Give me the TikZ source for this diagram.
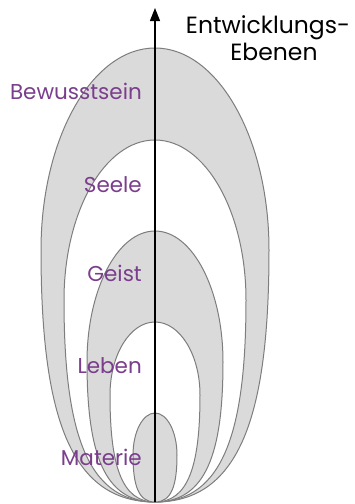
\documentclass[tikz,border=0pt]{standalone}
\usepackage{fontspec}
\setmainfont{Poppins}
\usetikzlibrary{arrows.meta}
\definecolor{eggfill}{RGB}{218,218,218}
\definecolor{eggline}{RGB}{125,125,125}
\definecolor{lbl}{RGB}{122,62,140}
% #1 top y, #2 half width, #3 y of widest point, #4 style
\newcommand\eggshape[4]{%
  \path[#4] (155,502) .. controls ({155+0.75*#2},502) and ({155+#2},{#3+0.65*(502-#3)}) .. ({155+#2},#3)
  .. controls ({155+#2},{#3-0.552*(#3-#1)}) and ({155+0.552*#2},#1) .. (155,#1)
  .. controls ({155-0.552*#2},#1) and ({155-#2},{#3-0.552*(#3-#1)}) .. ({155-#2},#3)
  .. controls ({155-#2},{#3+0.65*(502-#3)}) and ({155-0.75*#2},502) .. (155,502) -- cycle;}
\tikzset{
  grayegg/.style={fill=eggfill, draw=eggline, line width=1pt},
  whiteegg/.style={fill=white, draw=eggline, line width=1pt},
  level/.style={text=lbl, font=\fontsize{21.5}{21.5}\selectfont, inner sep=0pt, anchor=base east},
  title/.style={text=black, font=\fontsize{23.5}{23.5}\selectfont, inner sep=0pt, anchor=base},
}
\begin{document}
\begin{tikzpicture}[x=1pt,y=-1pt]
\useasboundingbox (0,0) rectangle (354,504);
\eggshape{48}{114}{250}{grayegg}
\eggshape{140}{91}{300}{whiteegg}
\eggshape{231}{68}{362}{grayegg}
\eggshape{322}{45}{395}{whiteegg}
\eggshape{413}{22}{455}{grayegg}
\coordinate (base) at (155,502);
\coordinate (tip) at (155,8);
\draw[line width=1.2pt, -{Triangle[length=13pt,width=10pt]}] (base) -- (tip);
\node[level] (bew) at (142,99) {Bewusstsein};
\node[level] (see) at (142,192) {Seele};
\node[level] (gei) at (142,281) {Geist};
\node[level] (leb) at (142,373) {Leben};
\node[level] (mat) at (142,465) {Materie};
\node[title] (t1) at (268,33) {Entwicklungs-};
\node[title] (t2) at (274,60) {Ebenen};
\end{tikzpicture}
\end{document}
